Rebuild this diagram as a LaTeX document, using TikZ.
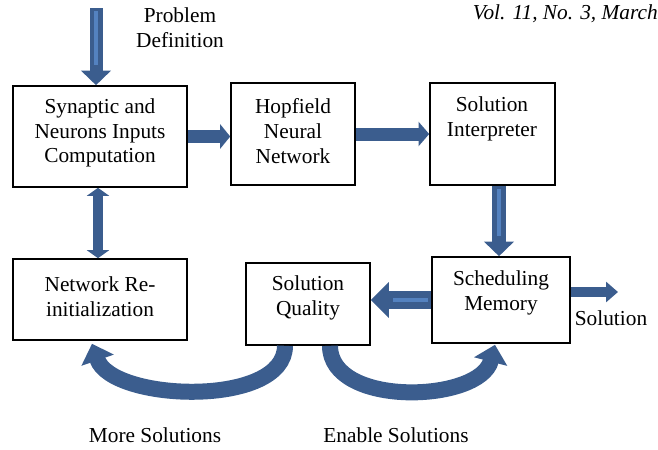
\documentclass[tikz,border=0pt]{standalone}
\usepackage{fontspec}
\setmainfont{Liberation Serif}
\usetikzlibrary{arrows.meta,calc}
\definecolor{ablue}{RGB}{59,93,142}
\definecolor{ahl}{RGB}{84,130,192}
\begin{document}
\begin{tikzpicture}[x=0.75pt,y=-0.75pt,font=\fontsize{16}{18.5}\selectfont]
\tikzset{
  box/.style={draw=black,line width=1.2pt,inner sep=0pt},
  lbl/.style={align=center,inner sep=0pt},
  barrow/.style n args={3}{draw=ablue,line width=#1,-{Triangle[length=#3,width=#2]}},
  dbarrow/.style n args={3}{draw=ablue,line width=#1,{Triangle[length=#3,width=#2]}-{Triangle[length=#3,width=#2]}},
  hl/.style={draw=ahl,line width=3pt}
}
\useasboundingbox (0,0) rectangle (658,450);
% boxes
\node[box,minimum width=130.5pt,minimum height=75.75pt] (syn) at (100,136.5) {};
\node[box,minimum width=93pt,minimum height=76.5pt] (hop) at (293,134) {};
\node[box,minimum width=93.75pt,minimum height=76.5pt] (interp) at (492.5,134) {};
\node[box,minimum width=130.5pt,minimum height=60.75pt] (net) at (100,299.5) {};
\node[box,minimum width=93pt,minimum height=61.5pt] (qual) at (308,304) {};
\node[box,minimum width=103.5pt,minimum height=64.5pt] (sched) at (501,300) {};
% box texts
\node[lbl] (synT) at (100,133) {Synaptic and\\Neurons Inputs\\Computation};
\node[lbl] (hopT) at (293,131) {Hopfield\\Neural\\Network};
\node[lbl] (interpT) at (492,119) {Solution\\Interpreter};
\node[lbl] (netT) at (100,297) {Network Re-\\initialization};
\node[lbl] (qualT) at (308,298) {Solution\\Quality};
\node[lbl] (schedT) at (501,293) {Scheduling\\Memory};
% free texts
\node[lbl] (pdT) at (180,28) {Problem\\Definition};
\node[lbl,anchor=east,font=\fontsize{16}{18.5}\selectfont\itshape] (vol) at (658,14) {Vol. 11, No. 3, March};
\node[lbl] (solT) at (611,318) {Solution};
\node[lbl] (moreT) at (155,435) {More Solutions};
\node[lbl] (enT) at (396,435) {Enable Solutions};
% helper coordinates
\coordinate (pdtop) at (96,8);
\coordinate (pdbot) at (pdtop |- syn.north);
\coordinate (ia) at ($(interp.south)+(6.5,0)$);
\coordinate (ib) at (ia |- sched.north);
\coordinate (sa) at (sched.west);
\coordinate (sb) at (sched.west -| qual.east);
\coordinate (solend) at (618,292);
% arrows
\draw[barrow={9.75pt}{22pt}{11pt}] (pdtop) -- (pdbot);
\draw[hl] ($(pdtop)+(0,3)$) -- ($(pdbot)+(0,-20)$);
\draw[barrow={9.75pt}{18pt}{7.5pt}] (syn.east) -- (syn.east -| hop.west);
\draw[barrow={9.75pt}{18pt}{8pt}] (hop.east) -- (hop.east -| interp.west);
\draw[barrow={10.5pt}{22pt}{11pt}] (ia) -- (ib);
\draw[hl] ($(ia)+(0,3)$) -- ($(ib)+(0,-20)$);
\draw[barrow={13.5pt}{26pt}{13.5pt}] (sa) -- (sb);
\draw[hl] ($(sa)+(-3,0)$) -- ($(sb)+(22,0)$);
\draw[barrow={7.5pt}{15pt}{9pt}] (sched.east |- solend) -- (solend);
\draw[dbarrow={7.5pt}{16.5pt}{6pt}] ($(syn.south)+(-2,0)$) -- ($(net.north)+(-2,0)$);
% curved arrows
\draw[barrow={12pt}{25pt}{13pt}] ($(qual.south)+(-23,0)$) .. controls +(0,62) and +(20,58) .. ($(net.south)+(-8,3)$);
\draw[barrow={12pt}{25pt}{13pt}] ($(qual.south)+(22,0)$) .. controls +(0,62) and +(-15,58) .. ($(sched.south)+(-6,1)$);
\end{tikzpicture}
\end{document}
